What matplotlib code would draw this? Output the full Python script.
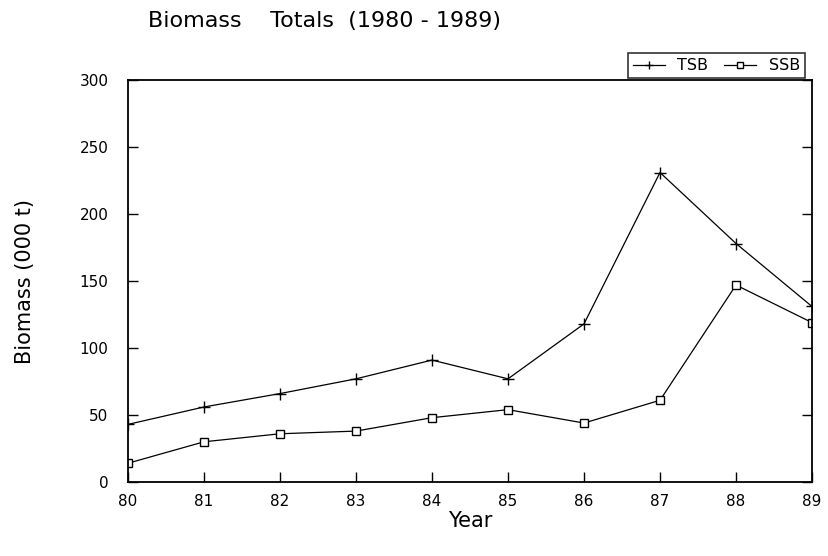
import matplotlib
matplotlib.use("Agg")
from matplotlib import pyplot as plt

# data
years = [80, 81, 82, 83, 84, 85, 86, 87, 88, 89]
tsb = [43, 56, 66, 77, 91, 77, 118, 231, 178, 131]
ssb = [14, 30, 36, 38, 48, 54, 44, 61, 147, 119]
yticks = [0, 50, 100, 150, 200, 250, 300]

plt.rcParams['font.family'] = 'DejaVu Sans'

fig = plt.figure(figsize=(8.29, 5.56), dpi=100)
ax = fig.add_axes([0.1544, 0.1331, 0.8251, 0.7229])

ax.plot(years, tsb, color='black', lw=0.9, marker='+', ms=8, mew=1.0, label='TSB')
ax.plot(years, ssb, color='black', lw=0.9, marker='s', ms=6, mfc='white', mew=1.0, label='SSB')

ax.set_xlim(80, 89)
ax.set_ylim(0, 300)
ax.set_xticks(years)
ax.set_xticklabels([str(y) for y in years], fontsize=11)
ax.set_yticks(yticks)
ax.set_yticklabels([str(v) for v in yticks], fontsize=11)
ax.tick_params(direction='in', length=7, width=1.0, right=True)
ax.tick_params(axis='x', pad=9)
ax.tick_params(axis='y', pad=14)
for s in ax.spines.values():
    s.set_linewidth(1.3)

ax.set_xlabel('Year', fontsize=15, labelpad=1)
ax.set_ylabel('Biomass (000 t)', fontsize=15, labelpad=32)
fig.text(0.178, 0.962, 'Biomass    Totals  (1980 - 1989)', fontsize=16, ha='left', va='center')

leg = ax.legend(ncol=2, loc='lower right', bbox_to_anchor=(0.99, 1.005), frameon=True,
                fancybox=False, edgecolor='black', fontsize=11.5, handlelength=2.0,
                columnspacing=1.0, borderpad=0.3, borderaxespad=0.0, markerscale=0.8)
leg.get_frame().set_linewidth(1.2)

plt.savefig('out.png', dpi=100)
